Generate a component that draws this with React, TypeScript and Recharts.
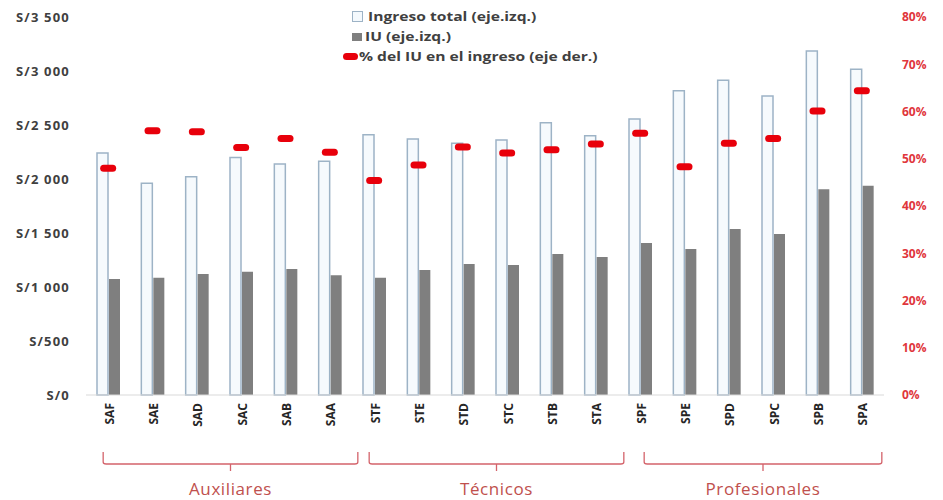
import React from "react";
import { ComposedChart, Bar, Line, XAxis, YAxis } from "recharts";

const categories = ["SAF", "SAE", "SAD", "SAC", "SAB", "SAA", "STF", "STE", "STD", "STC", "STB", "STA", "SPF", "SPE", "SPD", "SPC", "SPB", "SPA"];
const ingresoTotal = [2240, 1960, 2020, 2200, 2140, 2165, 2410, 2370, 2330, 2360, 2520, 2400, 2555, 2818, 2914, 2768, 3185, 3016];
const iu = [1074, 1086, 1120, 1142, 1167, 1108, 1086, 1157, 1213, 1204, 1305, 1278, 1407, 1352, 1537, 1490, 1905, 1938];
const pctIU = [0.48, 0.559, 0.557, 0.524, 0.543, 0.514, 0.454, 0.487, 0.525, 0.512, 0.519, 0.531, 0.554, 0.483, 0.533, 0.543, 0.601, 0.644];

const leftTicks = [0, 500, 1000, 1500, 2000, 2500, 3000, 3500];
const rightTicks = [0, 0.1, 0.2, 0.3, 0.4, 0.5, 0.6, 0.7, 0.8];

const groups = [
  { name: "Auxiliares", from: 0, to: 5 },
  { name: "Técnicos", from: 6, to: 11 },
  { name: "Profesionales", from: 12, to: 17 },
];

const W = 943;
const H = 500;
const PLOT_LEFT = 86;
const PLOT_RIGHT = 884;
const FONT = "'Open Sans', 'Liberation Sans', sans-serif";
const RED = "#e8000b";

const data = categories.map((cat, i) => ({
  cat,
  total: ingresoTotal[i],
  iu: iu[i],
  pct: pctIU[i],
}));

function formatSoles(v: number): string {
  if (v >= 1000) {
    const s = String(v);
    return `S/${s.slice(0, s.length - 3)} ${s.slice(-3)}`;
  }
  return `S/${v}`;
}

function XTick(props: any) {
  const { x, y, payload } = props;
  return (
    <text
      x={x + 1}
      y={y}
      transform={`rotate(-90 ${x + 1} ${y})`}
      textAnchor="end"
      dominantBaseline="central"
      fontFamily={FONT}
      fontWeight={700}
      fontSize={12}
      fill="#262626"
    >
      {payload.value}
    </text>
  );
}

function Marker(props: any) {
  const { cx, cy, index } = props;
  if (cx == null || cy == null) return <g key={index} />;
  return <rect key={index} x={cx - 8} y={cy - 3.5} width={16} height={7} rx={3.5} fill={RED} />;
}

function Brackets() {
  const band = (PLOT_RIGHT - PLOT_LEFT) / categories.length;
  const center = (i: number) => PLOT_LEFT + band * (i + 0.5);
  const color = "#d4636b";
  return (
    <svg width={W} height={H} style={{ position: "absolute", left: 0, top: 0, pointerEvents: "none" }}>
      {groups.map((g, gi) => {
        // last group's bracket sits a bit more inside in the original
        const x1 = center(g.from) + (gi === 2 ? 4 : -5);
        const x2 = center(g.to) + (gi === 2 ? 20 : 28);
        const mid = (x1 + x2) / 2;
        return (
          <g key={g.name}>
            <path
              d={`M${x1} 452 L${x1} 462 Q${x1} 464 ${x1 + 3} 464 L${x2 - 3} 464 Q${x2} 464 ${x2} 462 L${x2} 452 M${mid} 464 L${mid} 471`}
              stroke={color}
              strokeWidth={1.3}
              fill="none"
            />
            <text x={mid} y={488} textAnchor="middle" dominantBaseline="central" fontFamily={FONT} fontSize={17} letterSpacing={0.6} fill="#c0504d">
              {g.name}
            </text>
          </g>
        );
      })}
    </svg>
  );
}

function LegendBox() {
  const text = {
    fontFamily: FONT,
    fontWeight: 700,
    fontSize: 12,
    color: "#404040",
    whiteSpace: "nowrap" as const,
    display: "inline-block",
    transform: "scaleX(1.3)",
    transformOrigin: "left center",
  };
  return (
    <div style={{ position: "absolute", left: 0, top: 0, width: W, height: 70, pointerEvents: "none" }}>
      <div style={{ position: "absolute", left: 352, top: 8, display: "flex", alignItems: "center", gap: 5 }}>
        <span style={{ width: 9, height: 9, border: "1px solid #9db3c6", background: "#f4f9fd", display: "inline-block" }} />
        <span style={text}>Ingreso total (eje.izq.)</span>
      </div>
      <div style={{ position: "absolute", left: 352, top: 28, display: "flex", alignItems: "center", gap: 3 }}>
        <span style={{ width: 10, height: 8, background: "#7f7f7f", display: "inline-block" }} />
        <span style={text}>IU (eje.izq.)</span>
      </div>
      <div style={{ position: "absolute", left: 343, top: 48, display: "flex", alignItems: "center", gap: 1 }}>
        <span style={{ width: 15, height: 7, borderRadius: 4, background: RED, display: "inline-block" }} />
        <span style={text}>% del IU en el ingreso (eje der.)</span>
      </div>
    </div>
  );
}

export default function App() {
  return (
    <div style={{ position: "absolute", left: 0, top: 0, width: W, height: H, background: "#fff" }}>
      <ComposedChart width={W} height={H} data={data} margin={{ top: 17, right: 0, bottom: 65, left: 0 }} barGap={1} barCategoryGap="24%">
        <XAxis
          dataKey="cat"
          height={40}
          interval={0}
          tick={<XTick />}
          tickLine={false}
          tickSize={0}
          tickMargin={8}
          axisLine={{ stroke: "#d9d9d9" }}
        />
        <YAxis
          yAxisId="left"
          width={86}
          domain={[0, 3500]}
          ticks={leftTicks}
          tickFormatter={formatSoles}
          axisLine={false}
          tickLine={false}
          tickSize={6}
          tickMargin={10}
          tick={{ fontFamily: FONT, fontWeight: 700, fontSize: 13, fill: "#404040", letterSpacing: 1.2 }}
        />
        <YAxis
          yAxisId="right"
          orientation="right"
          width={59}
          domain={[0, 0.8]}
          ticks={rightTicks}
          tickFormatter={(v: number) => `${Math.round(v * 100)}%`}
          axisLine={false}
          tickLine={false}
          tickSize={6}
          tickMargin={12}
          tick={{ fontFamily: FONT, fontWeight: 700, fontSize: 12, fill: "#e0363c", textAnchor: "start" }}
        />
        <Bar yAxisId="left" dataKey="total" barSize={11} fill="#f6fafd" stroke="#9db3c6" strokeWidth={1.5} isAnimationActive={false} />
        <Bar yAxisId="left" dataKey="iu" barSize={11} fill="#7f7f7f" isAnimationActive={false} />
        <Line
          yAxisId="right"
          dataKey="pct"
          stroke="none"
          strokeWidth={0}
          dot={(p: any) => <Marker {...p} />}
          activeDot={false}
          isAnimationActive={false}
        />
      </ComposedChart>
      <LegendBox />
      <Brackets />
    </div>
  );
}
